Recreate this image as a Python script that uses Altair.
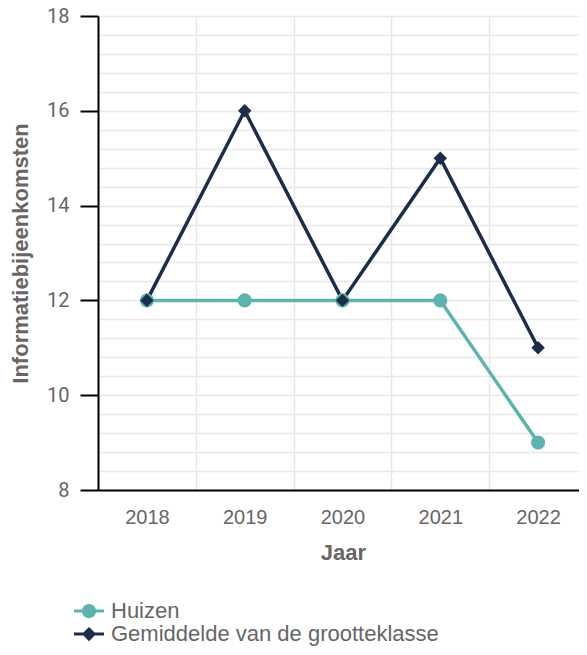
import altair as alt
import pandas as pd

years = ["2018", "2019", "2020", "2021", "2022"]
huizen = [12, 12, 12, 12, 9]
gemiddelde = [12, 16, 12, 15, 11]
series_names = ["Huizen", "Gemiddelde van de grootteklasse"]
colors = ["#5fb3ae", "#1b2d4b"]
y_grid = [round(8 + 0.4 * i, 1) for i in range(26)]

rows = []
for y, v in zip(years, huizen):
    rows.append({"Jaar": y, "waarde": v, "reeks": series_names[0]})
for y, v in zip(years, gemiddelde):
    rows.append({"Jaar": y, "waarde": v, "reeks": series_names[1]})
df = pd.DataFrame(rows)

FONT = "Liberation Sans"
major_test = "abs(datum.value - round(datum.value / 2) * 2) < 0.01"

circle_path = "M-2,-0.2H2V0.2H-2Z M0.95,0A0.95,0.95,0,1,1,-0.95,0A0.95,0.95,0,1,1,0.95,0Z"
diamond_path = "M-2,-0.2H2V0.2H-2Z M0,-0.95L0.95,0L0,0.95L-0.95,0Z"

PLOT_W = 481   # visible part of the plot (page edge clips the rest)
SCALE_W = 489  # full band range, reaching the right page edge

x_enc = alt.X(
    "Jaar:N",
    bandPosition=0.5,
    scale=alt.Scale(type="band", paddingInner=0, paddingOuter=0, range=[0, SCALE_W]),
    axis=alt.Axis(
        title="Jaar",
        tickBand="extent",
        ticks=False,
        tickSize=0,
        labelAngle=0,
        labelPadding=17,
        labelFont=FONT,
        labelFontSize=20,
        labelColor="#666666",
        titleFont=FONT,
        titleFontSize=22,
        titleFontWeight="bold",
        titleColor="#666666",
        titlePadding=15,
        titleX=245,
        domainColor="#000000",
        domainWidth=2,
        grid=True,
        gridColor="#e8e8e8",
        gridWidth=1.5,
    ),
)

y_enc = alt.Y(
    "waarde:Q",
    scale=alt.Scale(domain=[8, 18], nice=False, zero=False),
    axis=alt.Axis(
        title="Informatiebijeenkomsten",
        values=y_grid,
        labelExpr=f"{major_test} ? format(datum.value, 'd') : ''",
        labelOverlap=False,
        tickSize=18,
        tickWidth=2,
        tickColor={"condition": {"test": major_test, "value": "#000000"}, "value": "transparent"},
        labelPadding=11,
        labelFont="Roboto",
        labelFontSize=20,
        labelColor="#666666",
        titleFont=FONT,
        titleFontSize=22,
        titleFontWeight="bold",
        titleColor="#666666",
        titleX=-66,
        domainColor="#000000",
        domainWidth=2,
        grid=True,
        gridColor="#e8e8e8",
        gridWidth=1.5,
    ),
)

color_scale = alt.Scale(domain=series_names, range=colors)

legend_def = alt.Legend(
    title=None,
    orient="none",
    legendX=-20,
    legendY=584,
    direction="vertical",
    padding=0,
    symbolSize=225,
    symbolStrokeWidth=0,
    symbolOpacity=1,
    labelFont=FONT,
    labelFontSize=22,
    labelColor="#666666",
    labelOffset=11,
    labelLimit=500,
)

base = alt.Chart(df).encode(x=x_enc, y=y_enc)

color_enc = alt.Color("reeks:N", scale=color_scale, sort=series_names, legend=legend_def)

lines = base.mark_line(strokeWidth=3.5).encode(color=color_enc)

pts_h = base.transform_filter(alt.datum.reeks == series_names[0]).mark_point(
    filled=True, opacity=1, shape="circle", size=200
).encode(color=color_enc)

pts_g = base.transform_filter(alt.datum.reeks == series_names[1]).mark_point(
    filled=True, opacity=1, shape="diamond", size=180
).encode(color=color_enc)

legend_layer = base.mark_point(filled=True, opacity=0).encode(
    color=color_enc,
    shape=alt.Shape(
        "reeks:N",
        sort=series_names,
        scale=alt.Scale(domain=series_names, range=[circle_path, diamond_path]),
        legend=legend_def,
    ),
)

chart = alt.layer(lines, pts_h, pts_g, legend_layer).properties(
    width=PLOT_W,
    height=474,
    padding={"left": 90, "top": 8, "right": 0, "bottom": 157},
    autosize=alt.AutoSizeParams(type="none"),
).configure_view(stroke=None).configure_legend(rowPadding=1)

chart.save("out.html", embed_options={"renderer": "svg", "actions": False})
